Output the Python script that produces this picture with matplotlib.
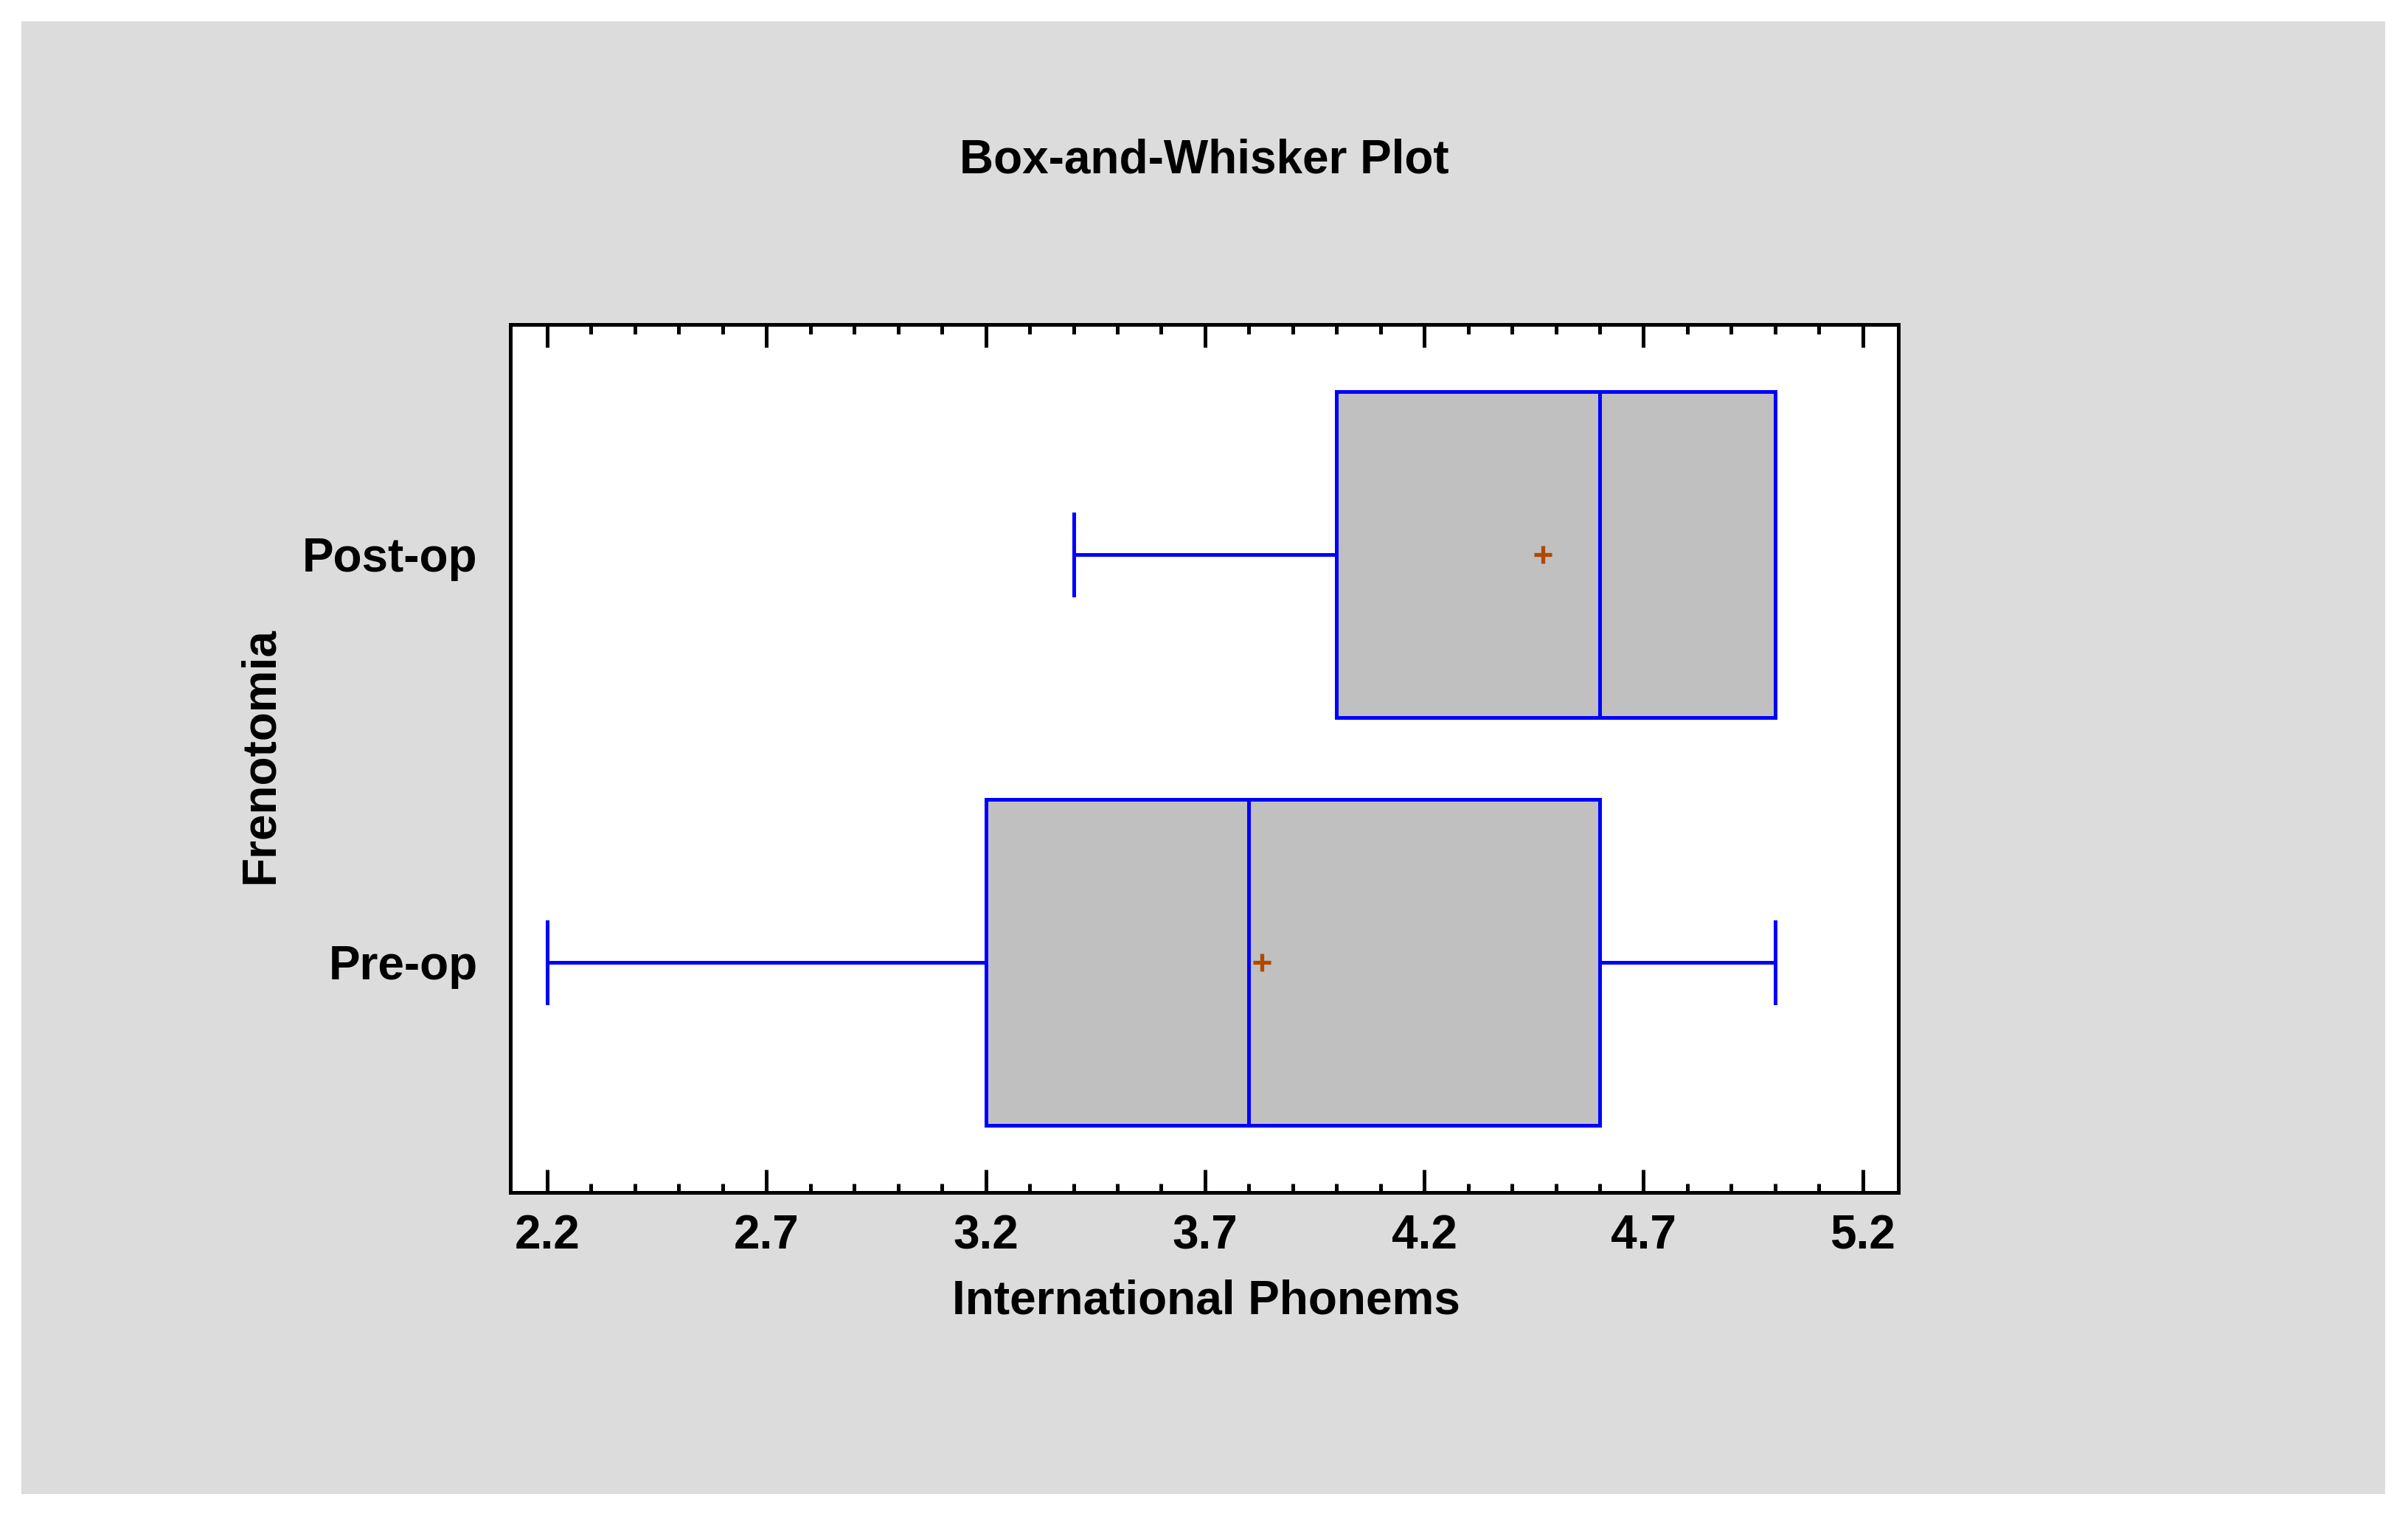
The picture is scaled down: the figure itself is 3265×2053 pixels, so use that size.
import matplotlib
matplotlib.use("Agg")
import matplotlib.pyplot as plt
from matplotlib.patches import Rectangle
from matplotlib.ticker import MultipleLocator

# summary stats
groups = ["Pre-op", "Post-op"]
whisker_lo = [2.2, 3.4]
q1 = [3.2, 4.0]
median = [3.8, 4.6]
q3 = [4.6, 5.0]
whisker_hi = [5.0, 5.0]
means = [3.83, 4.47]

x_ticks = [2.2, 2.7, 3.2, 3.7, 4.2, 4.7, 5.2]
x_tick_labels = ["2.2", "2.7", "3.2", "3.7", "4.2", "4.7", "5.2"]

plt.rcParams['font.family'] = ['Liberation Sans', 'DejaVu Sans']

fig = plt.figure(figsize=(32.66, 20.53), dpi=100)
fig.patch.set_facecolor("white")
# gray panel behind everything
fig.patches.append(Rectangle((29 / 3266, 1 - 2026 / 2053), (3234 - 29) / 3266, (2026 - 29) / 2053,
                             transform=fig.transFigure, facecolor="#dcdcdc", edgecolor="none", zorder=-5))

ax = fig.add_axes([0.2119, 0.2124, 0.5762, 0.5733])
ax.set_zorder(2)
ax.set_facecolor("white")

stats = []
for i in range(len(groups)):
    stats.append({
        "label": groups[i],
        "whislo": whisker_lo[i],
        "q1": q1[i],
        "med": median[i],
        "q3": q3[i],
        "whishi": whisker_hi[i],
        "mean": means[i],
        "fliers": [],
    })

blue = "#0000ff"
lw = 3.6
ax.bxp(stats, positions=[1, 2], vert=False, widths=0.8, patch_artist=True,
       showmeans=True, capwidths=0.2,
       boxprops=dict(facecolor="#c0c0c0", edgecolor=blue, linewidth=lw),
       medianprops=dict(color=blue, linewidth=lw),
       whiskerprops=dict(color=blue, linewidth=lw),
       capprops=dict(color=blue, linewidth=lw),
       meanprops=dict(marker="+", markersize=17, markeredgewidth=3.8,
                      markeredgecolor="#b04800", markerfacecolor="#b04800"))

ax.set_xlim(2.116, 5.281)
ax.set_ylim(0.436, 2.564)

ax.set_xticks(x_ticks)
ax.set_xticklabels(x_tick_labels)
ax.xaxis.set_minor_locator(MultipleLocator(0.1))
ax.set_yticks([1, 2])
ax.set_yticklabels(groups)

ax.tick_params(axis="x", which="major", direction="in", length=22, width=3.6,
               top=True, pad=21, labelsize=46)
ax.tick_params(axis="x", which="minor", direction="in", length=9, width=3.6, top=True)
ax.tick_params(axis="y", length=0, pad=32, labelsize=46)
for lab in ax.get_xticklabels() + ax.get_yticklabels():
    lab.set_fontweight("bold")

for s in ax.spines.values():
    s.set_linewidth(3.6)
    s.set_color("black")

fig.text(0.5, 1 - 234 / 2053, "Box-and-Whisker Plot", ha="center", va="baseline",
         fontsize=46, fontweight="bold")
fig.text(1635 / 3266, 1 - 1782 / 2053, "International Phonems", ha="center", va="baseline",
         fontsize=46, fontweight="bold")
fig.text(353 / 3266, 1 - 1024 / 2053, "Frenotomia", ha="center", va="center", rotation=90,
         fontsize=46, fontweight="bold")

plt.savefig("out.png", dpi=100)
